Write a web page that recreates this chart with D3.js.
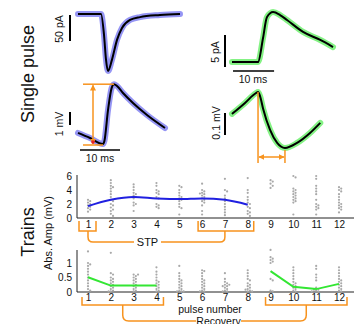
<!DOCTYPE html>
<html><head><meta charset="utf-8">
<script src="https://cdn.jsdelivr.net/npm/d3@7"></script>
<style>
body{margin:0;background:#fff}
text{font-family:"Liberation Sans",Arial,sans-serif;fill:#111}
</style>
</head><body>
<svg id="fig" width="354" height="324"></svg>
<script>
// single pulse traces: [time (ms), value]
const epscBlue = [[0,0],[5.75,0],[6.5,-40],[7,-88],[7.5,-110],[8.5,-88],[9.75,-50],[11,-27],[13,-11.5],[15.5,-6],[20.5,-2],[25.5,0]];
const epspBlue = [[0,0.85],[3,0.46],[6.25,0],[6.6,0.23],[7.5,2.6],[8.4,4.3],[9,4.6],[9.75,4.46],[11.25,3.92],[13.75,3.15],[17.25,2.23],[21.75,1.23]];
const epscGreen = [[0,0],[6.34,0],[7.56,3.75],[8.5,7.0],[10,7.8],[11.7,7.34],[13.4,6.56],[17.3,4.7],[21.5,3.44],[24.6,2.34]];
const epspGreen = [[0,0.155],[3.17,0.205],[5.85,0.25],[6.34,0.255],[6.83,0.236],[7.56,0.18],[9.27,0.082],[11,0.023],[12.9,0],[15.85,0.023],[19,0.068],[21.5,0.114]];

// trains
const pulses = [1,2,3,4,5,6,7,8,9,10,11,12];
const stpDots = [
  [2.6,2.4,2.2,2.0,1.8,1.6,1.4,1.2,0.9],
  [5.4,5.0,4.6,4.4,4.2,3.8,3.4,3.0,2.6,2.4,2.0,1.8,1.5,1.2,1.0,0.6,0.3],
  [4.8,4.4,4.0,3.6,3.4,3.2,3.0,2.8,2.2,2.0,1.8,1.0],
  [5.0,4.6,4.0,3.8,3.6,3.4,3.0,2.8,2.0,1.8,1.6,1.4],
  [4.6,4.4,4.0,3.6,3.2,3.0,2.8,2.6,2.4,2.0,1.6,1.4,0.5],
  [4.9,4.0,3.8,3.6,3.5,3.4,3.2,3.0,2.8,2.6,2.4,2.2,1.8,1.0,0.5],
  [5.6,4.0,3.8,3.2,2.8,2.4,2.0,1.6,1.2,0.8,0.4],
  [5.7,4.0,3.6,3.0,2.6,2.2,2.0,1.6,1.4,1.0,0.8,0.6,0.3],
  [5.4,5.2,4.9,4.6,4.3],
  [6.0,5.8,4.2,4.0,3.8,3.6,3.4,3.2,3.0,2.8,2.6,2.4,2.2,0.5],
  [6.0,5.6,4.6,4.2,3.8,3.4,2.6,2.0,1.8,1.6,1.4,1.2,0.5],
  [4.4,4.2,4.0,3.8,3.4,3.0,2.6,2.2,2.0,1.8,1.6,1.4,1.2,0.8]
];
const stpMean = [1.7,2.6,3.0,2.8,2.7,2.8,2.6,1.9];
const recDots = [
  [1.4,1.0,0.95,0.9,0.8,0.7,0.6,0.5,0.4,0.3,0.2,0.1,0.05],
  [1.35,0.65,0.6,0.5,0.45,0.4,0.35,0.3,0.25,0.2,0.15,0.1,0.05,0.02,0.02],
  [0.6,0.6,0.55,0.5,0.45,0.4,0.35,0.3,0.25,0.2,0.15,0.1,0.05,0.02],
  [0.85,0.7,0.6,0.5,0.4,0.35,0.3,0.25,0.2,0.15,0.1,0.05,0.02],
  [0.9,0.65,0.55,0.45,0.4,0.35,0.3,0.25,0.2,0.15,0.1,0.05,0.02,0.02,0.02],
  [0.75,0.72,0.65,0.55,0.45,0.4,0.35,0.3,0.25,0.2,0.15,0.1,0.05,0.02,0.02],
  [0.65,0.45,0.35,0.3,0.25,0.25,0.2,0.2,0.15,0.1,0.05,0.02,0.02],
  [0.75,0.65,0.55,0.45,0.4,0.3,0.25,0.2,0.15,0.1,0.08,0.05,0.02,0.02],
  [1.45,1.2,1.15,1.1,1.05,1.0,0.45,0.4,0.05,0.02],
  [0.85,0.75,0.65,0.55,0.45,0.35,0.3,0.25,0.2,0.15,0.1,0.05,0.02],
  [0.9,0.8,0.6,0.5,0.4,0.15,0.1,0.08,0.05,0.02,0.02],
  [0.85,0.75,0.65,0.55,0.45,0.4,0.35,0.3,0.25,0.2,0.15,0.1,0.05,0.02]
];
const recMean = [0.51,0.22,0.22,0.22,null,null,null,null,0.72,0.18,0.1,0.28];
const stpTicks = [0,2,4,6];
const recTicks = [0,0.5,1];

const ORANGE = '#f7931e';
const svg = d3.select('#fig');
const defs = svg.append('defs');
defs.append('marker').attr('id','arr').attr('viewBox','0 0 10 10')
  .attr('refX',9).attr('refY',5).attr('markerWidth',4).attr('markerHeight',4)
  .attr('orient','auto-start-reverse')
  .append('path').attr('d','M0,0L10,5L0,10z').attr('fill',ORANGE);

// ---- single pulse ----
const tL = d3.scaleLinear().domain([0,25.5]).range([78,180]);
const iL = d3.scaleLinear().domain([0,-110]).range([14,71]);
const vL = d3.scaleLinear().domain([0,1]).range([144,131]);
const tR = d3.scaleLinear().domain([0,24.6]).range([232,333]);
const iR = d3.scaleLinear().domain([0,5]).range([62,30]);
const vR = d3.scaleLinear().domain([0,0.1]).range([148,126]);

function trace(data, x, y, shade) {
  const line = d3.line().x(d => x(d[0])).y(d => y(d[1])).curve(d3.curveMonotoneX);
  svg.append('path').attr('d', line(data)).attr('fill','none')
    .attr('stroke', shade).attr('stroke-width',6).attr('stroke-linecap','round').attr('opacity',0.85);
  svg.append('path').attr('d', line(data)).attr('fill','none')
    .attr('stroke','#000').attr('stroke-width',2).attr('stroke-linejoin','round');
}
trace(epscBlue, tL, iL, '#8383f2');
trace(epspBlue, tL, vL, '#8383f2');
trace(epscGreen, tR, iR, '#6ff06f');
trace(epspGreen, tR, vR, '#6ff06f');

function vbar(x, y0, y1) {
  svg.append('line').attr('x1',x).attr('x2',x).attr('y1',y0).attr('y2',y1)
    .attr('stroke','#000').attr('stroke-width',2);
}
function hbar(x0, x1, y) {
  svg.append('line').attr('x1',x0).attr('x2',x1).attr('y1',y).attr('y2',y)
    .attr('stroke','#000').attr('stroke-width',1.6);
}
function vlabel(x, y, txt, size) {
  svg.append('text').attr('transform',`translate(${x},${y}) rotate(-90)`)
    .attr('text-anchor','middle').style('font-size',size+'px').text(txt);
}
// scale bars
vbar(70, 15, 15 + (iL(-50) - iL(0)));
vlabel(63, 29, '50 pA', 10.5);
vbar(70, 112, 112 + (vL(0) - vL(1)));
vlabel(63, 124, '1 mV', 10.5);
hbar(tL(0.5), tL(10.5), 150);
svg.append('text').attr('x',100).attr('y',162).attr('text-anchor','middle').style('font-size','10.5px').text('10 ms');
vbar(225, 35, 35 + (iR(0) - iR(5)));
vlabel(219, 52, '5 pA', 10.5);
vbar(225, 113, 113 + (vR(0) - vR(0.1)));
vlabel(220, 123, '0.1 mV', 10.5);
hbar(tR(0.25), tR(10.25), 71);
svg.append('text').attr('x',253).attr('y',83).attr('text-anchor','middle').style('font-size','10.5px').text('10 ms');

// amplitude marker on the blue EPSP
const oLine = (x1,y1,x2,y2) => svg.append('line').attr('x1',x1).attr('y1',y1).attr('x2',x2).attr('y2',y2)
  .attr('stroke',ORANGE).attr('stroke-width',1.5);
const peakY = vL(4.6), minY = vL(0);
oLine(83, peakY, tL(9), peakY);
oLine(83, minY + 1, tL(6.25), minY + 1);
oLine(93, peakY + 1, 93, minY).attr('marker-start','url(#arr)').attr('marker-end','url(#arr)');
svg.append('circle').attr('cx',93).attr('cy',minY - 2).attr('r',1.8).attr('fill','#e8202a');

// latency marker on the green EPSP
const pkX = tR(6.34), mnX = tR(12.9);
oLine(pkX, vR(0.255), pkX, 163);
oLine(mnX, 150, mnX, 163);
oLine(pkX + 1, 157, mnX - 1, 157).attr('marker-start','url(#arr)').attr('marker-end','url(#arr)');

// row titles
vlabel(34, 74, 'Single pulse', 18);
vlabel(34, 232, 'Trains', 18);
vlabel(52, 233, 'Abs. Amp (mV)', 11);

// ---- trains ----
const x = d3.scaleLinear().domain([1,12]).range([88,339]);
const yS = d3.scaleLinear().domain([0,6]).range([218,176]);
const yR = d3.scaleLinear().domain([0,1]).range([292,263]);

function swarm(vals, cx0, y, r) {
  const placed = [];
  return vals.slice().sort((a,b) => b - a).map(v => {
    const cy = y(v);
    let k = 0, cx = cx0;
    for (;;) {
      const off = k === 0 ? 0 : (k % 2 ? 1 : -1) * Math.ceil(k / 2) * r * 2;
      cx = cx0 + off;
      if (placed.every(p => (p[0]-cx)**2 + (p[1]-cy)**2 >= (2*r)**2)) break;
      k++;
    }
    placed.push([cx, cy]);
    return [cx, cy];
  });
}

function panel(dots, mean, y, ticks, yTop, color, curve, pad) {
  const g = svg.append('g');
  g.append('g').attr('transform',`translate(77,0)`)
    .call(d3.axisLeft(y).tickValues(ticks).tickSize(0).tickPadding(5).tickFormat(d3.format('')))
    .call(a => a.select('.domain').remove())
    .call(a => a.selectAll('text').style('font-size','10px').attr('fill','#111'));
  g.append('line').attr('x1',77).attr('x2',77).attr('y1',yTop).attr('y2',y(0)).attr('stroke','#222');
  g.append('line').attr('x1',77).attr('x2',354).attr('y1',y(0)).attr('y2',y(0)).attr('stroke','#222');
  g.append('g').attr('transform',`translate(0,${y(0)})`)
    .call(d3.axisBottom(x).tickValues(pulses).tickSize(0).tickPadding(pad).tickFormat(d3.format('d')))
    .call(a => a.select('.domain').remove())
    .call(a => a.selectAll('text').style('font-size','10px').attr('fill','#111'));
  dots.forEach((vals, i) => {
    g.selectAll(null).data(swarm(vals, x(pulses[i]), y, 1.1)).enter().append('circle')
      .attr('cx', d => d[0]).attr('cy', d => d[1]).attr('r',1.1).attr('fill','#a9a9a9');
  });
  const line = d3.line().defined(d => d != null).x((d, i) => x(pulses[i])).y(d => y(d)).curve(curve);
  g.append('path').attr('d', line(mean)).attr('fill','none').attr('stroke',color).attr('stroke-width',2);
}
panel(stpDots, stpMean, yS, stpTicks, 175, '#2020e0', d3.curveMonotoneX, 3);
panel(recDots, recMean, yR, recTicks, 250, '#33e633', d3.curveLinear, 2);

svg.append('text').attr('x',210).attr('y',312.5).attr('text-anchor','middle').style('font-size','10.5px').text('pulse number');

// brackets
function bracket(x0, x1, yT, yB) {
  svg.append('path').attr('d',`M${x0},${yT}V${yB}H${x1}V${yT}`)
    .attr('fill','none').attr('stroke',ORANGE).attr('stroke-width',1.5);
}
function oPath(d) {
  svg.append('path').attr('d', d).attr('fill','none').attr('stroke',ORANGE).attr('stroke-width',1.5);
}
bracket(x(1) - 9, x(1) + 8, 221, 231);
bracket(x(6) - 4, x(8) + 6, 221, 231);
oPath(`M${x(1)},231V237Q${x(1)},242 ${x(1)+5},242H134`);
oPath(`M161,242H${x(7)-5}Q${x(7)},242 ${x(7)},237V231`);
svg.append('text').attr('x',147.5).attr('y',246).attr('text-anchor','middle').style('font-size','11px').text('STP');

bracket(x(1) - 6, x(4) + 7, 297, 305);
bracket(x(9) - 5, x(12) + 8, 297, 305);
const c1 = (x(1) - 6 + x(4) + 7) / 2, c2 = (x(9) - 5 + x(12) + 8) / 2;
oPath(`M${c1},305V315Q${c1},321 ${c1+6},321H196`);
oPath(`M241,321H${c2-6}Q${c2},321 ${c2},315V305`);
svg.append('text').attr('x',218.5).attr('y',324.5).attr('text-anchor','middle').style('font-size','10.5px').text('Recovery');
</script>
</body></html>
